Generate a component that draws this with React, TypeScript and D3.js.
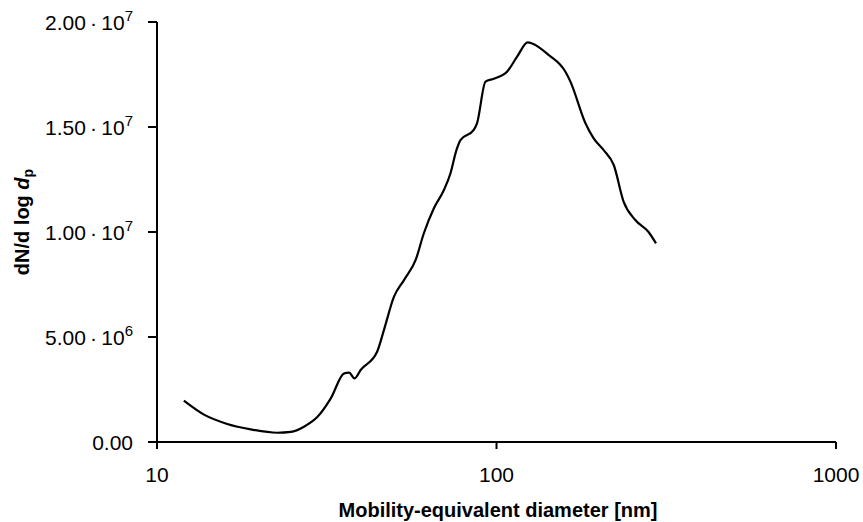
import React, { useEffect, useRef } from "react";
import * as d3 from "d3";

// particle size distribution
const diameters = [
  12.0, 13.8, 16.1, 18.9, 22.6, 24.8, 27.1, 29.7, 32.5, 35.6, 36.8, 38.2, 39.8,
  44.5, 46.6, 49.9, 53.4, 57.8, 61.1, 65.4, 70.0, 73.2, 76.2, 78.3, 85.7, 87.7,
  92.8, 98.2, 107.4, 115, 123.6, 127.3, 142.5, 159.6, 165.1, 182.8, 193.3,
  206.9, 221.5, 236.9, 256.4, 280.5, 295,
];
const dNdlogDp = [
  1.97e6, 1.29e6, 0.86e6, 0.6e6, 0.44e6, 0.48e6, 0.73e6, 1.2e6, 2.08e6, 3.27e6,
  3.3e6, 3.03e6, 3.43e6, 4.3e6, 5.33e6, 6.92e6, 7.71e6, 8.67e6, 9.94e6,
  11.13e6, 12.0e6, 12.8e6, 13.9e6, 14.38e6, 14.86e6, 15.2e6, 17.16e6, 17.3e6,
  17.63e6, 18.35e6, 19.03e6, 18.98e6, 18.43e6, 17.63e6, 17.16e6, 15.18e6,
  14.46e6, 13.9e6, 13.19e6, 11.44e6, 10.57e6, 10.0e6, 9.46e6,
];
const xTicks = [10, 100, 1000];
const yTicks = [0, 5e6, 1e7, 1.5e7, 2e7];

export default function App() {
  const ref = useRef<SVGSVGElement>(null);

  useEffect(() => {
    document.body.style.margin = "0";
    const svg = d3.select(ref.current);
    svg.selectAll("*").remove();

    const margin = { top: 22, left: 157, right: 27, bottom: 80 };
    const W = 863, H = 522;
    const w = W - margin.left - margin.right;
    const h = H - margin.top - margin.bottom;
    const font = "Liberation Sans, Arial, Helvetica, sans-serif";

    const x = d3.scaleLog().domain([10, 1000]).range([0, w]);
    const y = d3.scaleLinear().domain([0, 2e7]).range([h, 0]);

    const g = svg.append("g").attr("transform", `translate(${margin.left},${margin.top})`);

    // x axis
    const xa = g.append("g").attr("transform", `translate(0,${h})`);
    xa.append("line").attr("x1", 0).attr("x2", w).attr("stroke", "#000").attr("stroke-width", 2);
    xTicks.forEach((t) => {
      xa.append("line").attr("x1", x(t)).attr("x2", x(t)).attr("y1", 0).attr("y2", 7)
        .attr("stroke", "#000").attr("stroke-width", 2);
      xa.append("text").attr("x", x(t)).attr("y", 40).attr("text-anchor", "middle")
        .attr("font-family", font).attr("font-size", 21).text(String(t));
    });

    // y axis
    const ya = g.append("g");
    ya.append("line").attr("y1", 0).attr("y2", h).attr("stroke", "#000").attr("stroke-width", 2);
    yTicks.forEach((t) => {
      ya.append("line").attr("x1", -9).attr("x2", 0).attr("y1", y(t)).attr("y2", y(t))
        .attr("stroke", "#000").attr("stroke-width", 2);
      const txt = ya.append("text").attr("x", -24).attr("y", y(t) + 8).attr("text-anchor", "end")
        .attr("font-family", font).attr("font-size", 21);
      if (t === 0) {
        txt.text("0.00");
      } else {
        const e = Math.floor(Math.log10(t));
        const m = (t / Math.pow(10, e)).toFixed(2);
        txt.append("tspan").text(`${m}\u2009\u00b7\u200910`);
        txt.append("tspan").attr("dy", -9).attr("font-size", 15).text(String(e));
      }
    });

    // curve
    const line = d3.line<number>()
      .x((_, i) => x(diameters[i]))
      .y((d) => y(d))
      .curve(d3.curveMonotoneX);
    g.append("path").datum(dNdlogDp).attr("d", line).attr("fill", "none")
      .attr("stroke", "#000").attr("stroke-width", 2.2);

    // axis titles
    svg.append("text").attr("x", 498).attr("y", 517).attr("text-anchor", "middle")
      .attr("font-family", font).attr("font-weight", "bold").attr("font-size", 20)
      .text("Mobility-equivalent diameter [nm]");

    const yl = svg.append("text").attr("transform", "translate(29,222) rotate(-90)")
      .attr("text-anchor", "middle").attr("font-family", font).attr("font-weight", "bold")
      .attr("font-size", 20);
    yl.append("tspan").text("dN/d log ");
    yl.append("tspan").attr("font-style", "italic").text("d");
    yl.append("tspan").attr("font-size", 14).attr("dy", 4).text("p");
  }, []);

  return <svg ref={ref} width={863} height={522} style={{ display: "block", background: "#fff" }} />;
}
